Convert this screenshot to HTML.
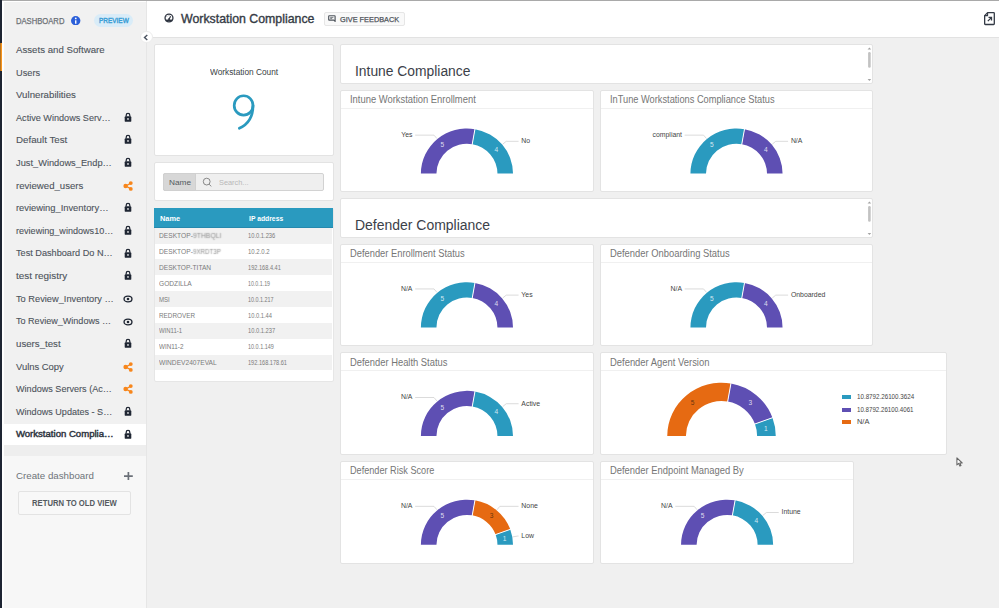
<!DOCTYPE html>
<html><head><meta charset="utf-8"><style>
*{margin:0;padding:0;box-sizing:border-box}
html,body{width:999px;height:608px;overflow:hidden;background:#f0f0f0;font-family:"Liberation Sans", sans-serif}
.t{position:absolute;white-space:nowrap;line-height:1}
.card{position:absolute;background:#fff;border:1px solid #e3e3e3;border-radius:2px}
.card .sep{position:absolute;left:0;right:0;top:17px;height:1px;background:#f0f0f0}
svg text{font-family:"Liberation Sans", sans-serif}
</style></head><body>
<div style="position:absolute;left:0;top:0;width:999px;height:1px;background:#a9a9a9"></div>
<div style="position:absolute;left:147px;top:1px;width:852px;height:37px;background:#fff;border-bottom:1px solid #e2e2e2"></div>
<div style="position:absolute;left:2px;top:1px;width:145px;height:607px;background:#fff"></div>
<div style="position:absolute;left:4px;top:2px;width:142px;height:443px;background:#f1f1f1"></div>
<div style="position:absolute;left:4px;top:445px;width:142px;height:11px;background:#eeeeee"></div>
<div style="position:absolute;left:4px;top:456px;width:142px;height:152px;background:#f7f7f7"></div>
<div style="position:absolute;left:146px;top:1px;width:1px;height:607px;background:#e6e6e6"></div>
<div style="position:absolute;left:0;top:0;width:2px;height:608px;background:#1e2533"></div>
<div style="position:absolute;left:0;top:43px;width:1px;height:28px;background:#b8741f"></div>
<div style="position:absolute;left:1px;top:43px;width:1px;height:28px;background:#f7941d"></div>
<div class="t" style="left:15.90px;top:17px;font-size:8.50px;color:#6c7075;transform:scaleX(0.8988);transform-origin:0 0;-webkit-text-stroke:0.25px #6c7075;">DASHBOARD</div>
<svg style="position:absolute;left:71.2px;top:15.5px" width="9.4" height="9.4" viewBox="0 0 10 10"><circle cx="5" cy="5" r="5" fill="#2b5fd9"/><rect x="4.3" y="4.4" width="1.5" height="3.8" rx="0.3" fill="#fff"/><circle cx="5.05" cy="2.55" r="0.95" fill="#fff"/></svg>
<div style="position:absolute;left:93.9px;top:13.9px;width:39.3px;height:12.9px;border-radius:6.5px;background:#d9ecf8"></div>
<div class="t" style="left:98.80px;top:18px;font-size:7.12px;color:#3a9ed6;transform:scaleX(0.9066);transform-origin:0 0;-webkit-text-stroke:0.4px #3a9ed6;">PREVIEW</div>
<div class="t" style="left:15.90px;top:46px;font-size:9.38px;color:#4d535b;transform:scaleX(1.0306);transform-origin:0 0;-webkit-text-stroke:0.1px #4d535b;">Assets and Software</div>
<div class="t" style="left:15.90px;top:69px;font-size:9.38px;color:#4d535b;transform:scaleX(0.9849);transform-origin:0 0;-webkit-text-stroke:0.1px #4d535b;">Users</div>
<div class="t" style="left:15.90px;top:91px;font-size:9.38px;color:#4d535b;transform:scaleX(1.0322);transform-origin:0 0;-webkit-text-stroke:0.1px #4d535b;">Vulnerabilities</div>
<div class="t" style="left:15.90px;top:114px;font-size:9.38px;color:#4d535b;transform:scaleX(0.9722);transform-origin:0 0;-webkit-text-stroke:0.1px #4d535b;">Active Windows Serv…</div>
<svg style="position:absolute;left:123.90px;top:111.86px" width="8" height="10" viewBox="0 0 8 10"><path d="M2.2,4.6V3.2a1.8,1.8 0 0 1 3.6,0V4.6" fill="none" stroke="#1f2633" stroke-width="1.25"/><rect x="0.7" y="4.3" width="6.6" height="5.5" rx="0.9" fill="#1f2633"/><circle cx="4" cy="6.9" r="0.85" fill="#f1f1f1"/></svg>
<div class="t" style="left:15.90px;top:136px;font-size:9.37px;color:#4d535b;transform:scaleX(1.0423);transform-origin:0 0;-webkit-text-stroke:0.1px #4d535b;">Default Test</div>
<svg style="position:absolute;left:123.90px;top:134.48px" width="8" height="10" viewBox="0 0 8 10"><path d="M2.2,4.6V3.2a1.8,1.8 0 0 1 3.6,0V4.6" fill="none" stroke="#1f2633" stroke-width="1.25"/><rect x="0.7" y="4.3" width="6.6" height="5.5" rx="0.9" fill="#1f2633"/><circle cx="4" cy="6.9" r="0.85" fill="#f1f1f1"/></svg>
<div class="t" style="left:15.90px;top:159px;font-size:9.37px;color:#4d535b;transform:scaleX(0.9903);transform-origin:0 0;-webkit-text-stroke:0.1px #4d535b;">Just_Windows_Endp…</div>
<svg style="position:absolute;left:123.90px;top:157.10px" width="8" height="10" viewBox="0 0 8 10"><path d="M2.2,4.6V3.2a1.8,1.8 0 0 1 3.6,0V4.6" fill="none" stroke="#1f2633" stroke-width="1.25"/><rect x="0.7" y="4.3" width="6.6" height="5.5" rx="0.9" fill="#1f2633"/><circle cx="4" cy="6.9" r="0.85" fill="#f1f1f1"/></svg>
<div class="t" style="left:15.90px;top:182px;font-size:9.37px;color:#4d535b;transform:scaleX(1.0278);transform-origin:0 0;-webkit-text-stroke:0.1px #4d535b;">reviewed_users</div>
<svg style="position:absolute;left:123.00px;top:180.72px" width="10" height="10" viewBox="0 0 10 10"><path d="M2.8,5 L7.9,2.1 M2.8,5 L7.9,7.9" stroke="#f7861c" stroke-width="1.3"/><circle cx="2.6" cy="5" r="2.25" fill="#f7861c"/><circle cx="7.8" cy="2.1" r="1.9" fill="#f7861c"/><circle cx="7.8" cy="7.9" r="1.9" fill="#f7861c"/></svg>
<div class="t" style="left:15.90px;top:204px;font-size:9.37px;color:#4d535b;-webkit-text-stroke:0.1px #4d535b;">reviewing_Inventory…</div>
<svg style="position:absolute;left:123.90px;top:202.34px" width="8" height="10" viewBox="0 0 8 10"><path d="M2.2,4.6V3.2a1.8,1.8 0 0 1 3.6,0V4.6" fill="none" stroke="#1f2633" stroke-width="1.25"/><rect x="0.7" y="4.3" width="6.6" height="5.5" rx="0.9" fill="#1f2633"/><circle cx="4" cy="6.9" r="0.85" fill="#f1f1f1"/></svg>
<div class="t" style="left:15.90px;top:227px;font-size:9.37px;color:#4d535b;transform:scaleX(0.9692);transform-origin:0 0;-webkit-text-stroke:0.1px #4d535b;">reviewing_windows10…</div>
<svg style="position:absolute;left:123.90px;top:224.96px" width="8" height="10" viewBox="0 0 8 10"><path d="M2.2,4.6V3.2a1.8,1.8 0 0 1 3.6,0V4.6" fill="none" stroke="#1f2633" stroke-width="1.25"/><rect x="0.7" y="4.3" width="6.6" height="5.5" rx="0.9" fill="#1f2633"/><circle cx="4" cy="6.9" r="0.85" fill="#f1f1f1"/></svg>
<div class="t" style="left:15.90px;top:249px;font-size:9.37px;color:#4d535b;transform:scaleX(0.9778);transform-origin:0 0;-webkit-text-stroke:0.1px #4d535b;">Test Dashboard Do N…</div>
<svg style="position:absolute;left:123.90px;top:247.58px" width="8" height="10" viewBox="0 0 8 10"><path d="M2.2,4.6V3.2a1.8,1.8 0 0 1 3.6,0V4.6" fill="none" stroke="#1f2633" stroke-width="1.25"/><rect x="0.7" y="4.3" width="6.6" height="5.5" rx="0.9" fill="#1f2633"/><circle cx="4" cy="6.9" r="0.85" fill="#f1f1f1"/></svg>
<div class="t" style="left:15.90px;top:272px;font-size:9.37px;color:#4d535b;transform:scaleX(1.0605);transform-origin:0 0;-webkit-text-stroke:0.1px #4d535b;">test registry</div>
<svg style="position:absolute;left:123.90px;top:270.20px" width="8" height="10" viewBox="0 0 8 10"><path d="M2.2,4.6V3.2a1.8,1.8 0 0 1 3.6,0V4.6" fill="none" stroke="#1f2633" stroke-width="1.25"/><rect x="0.7" y="4.3" width="6.6" height="5.5" rx="0.9" fill="#1f2633"/><circle cx="4" cy="6.9" r="0.85" fill="#f1f1f1"/></svg>
<div class="t" style="left:15.90px;top:295px;font-size:9.37px;color:#4d535b;transform:scaleX(0.9884);transform-origin:0 0;-webkit-text-stroke:0.1px #4d535b;">To Review_Inventory …</div>
<svg style="position:absolute;left:123.00px;top:295.12px" width="10" height="8" viewBox="0 0 10 8"><ellipse cx="5" cy="4" rx="3.95" ry="2.85" fill="none" stroke="#1f2633" stroke-width="1.35"/><circle cx="5" cy="4" r="1.3" fill="#1f2633"/></svg>
<div class="t" style="left:15.90px;top:317px;font-size:9.37px;color:#4d535b;transform:scaleX(0.9667);transform-origin:0 0;-webkit-text-stroke:0.1px #4d535b;">To Review_Windows …</div>
<svg style="position:absolute;left:123.00px;top:317.74px" width="10" height="8" viewBox="0 0 10 8"><ellipse cx="5" cy="4" rx="3.95" ry="2.85" fill="none" stroke="#1f2633" stroke-width="1.35"/><circle cx="5" cy="4" r="1.3" fill="#1f2633"/></svg>
<div class="t" style="left:15.90px;top:340px;font-size:9.37px;color:#4d535b;transform:scaleX(1.0332);transform-origin:0 0;-webkit-text-stroke:0.1px #4d535b;">users_test</div>
<svg style="position:absolute;left:123.90px;top:338.06px" width="8" height="10" viewBox="0 0 8 10"><path d="M2.2,4.6V3.2a1.8,1.8 0 0 1 3.6,0V4.6" fill="none" stroke="#1f2633" stroke-width="1.25"/><rect x="0.7" y="4.3" width="6.6" height="5.5" rx="0.9" fill="#1f2633"/><circle cx="4" cy="6.9" r="0.85" fill="#f1f1f1"/></svg>
<div class="t" style="left:15.90px;top:363px;font-size:9.37px;color:#4d535b;transform:scaleX(1.0057);transform-origin:0 0;-webkit-text-stroke:0.1px #4d535b;">Vulns Copy</div>
<svg style="position:absolute;left:123.00px;top:361.68px" width="10" height="10" viewBox="0 0 10 10"><path d="M2.8,5 L7.9,2.1 M2.8,5 L7.9,7.9" stroke="#f7861c" stroke-width="1.3"/><circle cx="2.6" cy="5" r="2.25" fill="#f7861c"/><circle cx="7.8" cy="2.1" r="1.9" fill="#f7861c"/><circle cx="7.8" cy="7.9" r="1.9" fill="#f7861c"/></svg>
<div class="t" style="left:15.90px;top:385px;font-size:9.37px;color:#4d535b;transform:scaleX(0.9697);transform-origin:0 0;-webkit-text-stroke:0.1px #4d535b;">Windows Servers (Ac…</div>
<svg style="position:absolute;left:123.00px;top:384.30px" width="10" height="10" viewBox="0 0 10 10"><path d="M2.8,5 L7.9,2.1 M2.8,5 L7.9,7.9" stroke="#f7861c" stroke-width="1.3"/><circle cx="2.6" cy="5" r="2.25" fill="#f7861c"/><circle cx="7.8" cy="2.1" r="1.9" fill="#f7861c"/><circle cx="7.8" cy="7.9" r="1.9" fill="#f7861c"/></svg>
<div class="t" style="left:15.90px;top:408px;font-size:9.37px;color:#4d535b;transform:scaleX(0.9687);transform-origin:0 0;-webkit-text-stroke:0.1px #4d535b;">Windows Updates - S…</div>
<svg style="position:absolute;left:123.90px;top:405.92px" width="8" height="10" viewBox="0 0 8 10"><path d="M2.2,4.6V3.2a1.8,1.8 0 0 1 3.6,0V4.6" fill="none" stroke="#1f2633" stroke-width="1.25"/><rect x="0.7" y="4.3" width="6.6" height="5.5" rx="0.9" fill="#1f2633"/><circle cx="4" cy="6.9" r="0.85" fill="#f1f1f1"/></svg>
<div style="position:absolute;left:4px;top:424px;width:142px;height:21px;background:#fff"></div>
<div class="t" style="left:15.90px;top:429px;font-size:9.59px;color:#2e3440;-webkit-text-stroke:0.45px #2e3440;">Workstation Complia…</div>
<svg style="position:absolute;left:123.90px;top:428.54px" width="8" height="10" viewBox="0 0 8 10"><path d="M2.2,4.6V3.2a1.8,1.8 0 0 1 3.6,0V4.6" fill="none" stroke="#1f2633" stroke-width="1.25"/><rect x="0.7" y="4.3" width="6.6" height="5.5" rx="0.9" fill="#1f2633"/><circle cx="4" cy="6.9" r="0.85" fill="#f1f1f1"/></svg>
<div class="t" style="left:15.90px;top:471px;font-size:9.45px;color:#6e7379;transform:scaleX(1.0314);transform-origin:0 0;">Create dashboard</div>
<svg style="position:absolute;left:124.2px;top:472.2px" width="8.8" height="8.2" viewBox="0 0 8.8 8.2"><path d="M4.4,0V8.2M0,4.1H8.8" stroke="#6b7078" stroke-width="1.7"/></svg>
<div style="position:absolute;left:18px;top:491px;width:113px;height:24px;border:1px solid #e3e3e3;border-radius:2px;background:#f8f8f8"></div>
<div class="t" style="left:32.10px;top:499px;font-size:8.72px;color:#555a60;font-weight:bold;transform:scaleX(0.8818);transform-origin:0 0;">RETURN TO OLD VIEW</div>
<div style="position:absolute;left:140.2px;top:30.5px;width:12.4px;height:12.4px;border-radius:50%;background:#fff;border:1px solid #ececec"></div>
<svg style="position:absolute;left:143.4px;top:33.6px" width="6" height="7" viewBox="0 0 6 7"><path d="M4.3,0.9 L1.5,3.45 L4.3,6" fill="none" stroke="#4a5260" stroke-width="1.4"/></svg>
<svg style="position:absolute;left:164.4px;top:13.4px" width="10" height="10" viewBox="0 0 10 10"><circle cx="5" cy="5" r="3.95" fill="none" stroke="#2e3440" stroke-width="1.3"/><path d="M1.7,7.4 H8.3" stroke="#2e3440" stroke-width="1.7"/><path d="M5,6.2 L6.6,3.2" stroke="#2e3440" stroke-width="1.2"/><circle cx="5" cy="6.2" r="0.9" fill="#2e3440"/><circle cx="2.9" cy="3.6" r="0.45" fill="#2e3440"/><circle cx="5" cy="2.6" r="0.45" fill="#2e3440"/></svg>
<div class="t" style="left:181.30px;top:14px;font-size:11.92px;color:#353b45;transform:scaleX(1.0360);transform-origin:0 0;-webkit-text-stroke:0.35px #353b45;">Workstation Compliance</div>
<div style="position:absolute;left:324px;top:12px;width:81px;height:14px;border:1px solid #e6e6e6;border-radius:2px;background:#f9f9f9"></div>
<svg style="position:absolute;left:328.4px;top:15.2px" width="7.8" height="7" viewBox="0 0 7.8 7"><path d="M1.2,0.7H6.6Q7.1,0.7 7.1,1.2V6.4L5.8,5.2H1.2Q0.7,5.2 0.7,4.7V1.2Q0.7,0.7 1.2,0.7Z" fill="none" stroke="#4e545c" stroke-width="1.15" stroke-linejoin="round"/><path d="M2.2,2.4H5.4M2.2,3.6H4.2" stroke="#4e545c" stroke-width="0.75"/></svg>
<div class="t" style="left:340.10px;top:16px;font-size:7.99px;color:#4e535a;transform:scaleX(0.9203);transform-origin:0 0;-webkit-text-stroke:0.25px #4e535a;">GIVE FEEDBACK</div>
<svg style="position:absolute;left:984.1px;top:12.1px" width="12" height="14" viewBox="0 0 12 14"><path d="M3.6,0.65H9.6Q10.3,0.65 10.3,1.35V11.8Q10.3,12.5 9.6,12.5H1.35Q0.65,12.5 0.65,11.8V3.6Z" fill="none" stroke="#333a45" stroke-width="1.3" stroke-linejoin="round"/><path d="M0.65,3.6H3.6V0.65" fill="none" stroke="#333a45" stroke-width="1.1" stroke-linejoin="round"/><path d="M3.8,9.1L7.3,5.6M4.5,5.4H7.5V8.4" fill="none" stroke="#333a45" stroke-width="1.3"/></svg>
<div class="card" style="left:154px;top:44px;width:180px;height:112px"></div>
<div class="t" style="left:209.50px;top:68px;font-size:8.58px;color:#3b3f45;transform:scaleX(0.9673);transform-origin:0 0;">Workstation Count</div>
<svg style="position:absolute;left:225px;top:88px" width="40" height="46" viewBox="225 88 40 46"><ellipse cx="243.6" cy="105.45" rx="9.4" ry="9.7" fill="none" stroke="#2a9abf" stroke-width="2.7"/><path d="M253,105.5 C253,117 248.5,124.2 239.3,128.3" fill="none" stroke="#2a9abf" stroke-width="2.7" stroke-linecap="round"/></svg>
<div class="card" style="left:154px;top:162px;width:180px;height:39px"></div>
<div style="position:absolute;left:163.4px;top:173.4px;width:160.3px;height:17.4px;border:1px solid #d2d2d2;border-radius:2px;background:#efefef"></div>
<div style="position:absolute;left:163.4px;top:173.4px;width:32.3px;height:17.4px;border:1px solid #d0d0d0;border-radius:2px 0 0 2px;background:#d7d7d7"></div>
<div class="t" style="left:168.50px;top:179px;font-size:7.85px;color:#555a60;transform:scaleX(1.0546);transform-origin:0 0;">Name</div>
<svg style="position:absolute;left:201.6px;top:177px" width="11" height="11" viewBox="0 0 11 11"><circle cx="4.7" cy="4.6" r="3.4" fill="none" stroke="#7a7a7a" stroke-width="0.9"/><path d="M7.2,7.2L9.2,9.4" stroke="#7a7a7a" stroke-width="0.9"/></svg>
<div class="t" style="left:218.70px;top:179px;font-size:7.85px;color:#b8b8b8;transform:scaleX(0.9396);transform-origin:0 0;">Search...</div>
<div class="card" style="left:154px;top:208px;width:180px;height:174px;border-color:#e6e6e6"></div>
<div style="position:absolute;left:154px;top:208px;width:179px;height:19.7px;background:#2a9abf;border-bottom:1.2px solid #2589ae"></div>
<div class="t" style="left:159.60px;top:215px;font-size:7.85px;color:#ffffff;font-weight:bold;transform:scaleX(0.9398);transform-origin:0 0;">Name</div>
<div class="t" style="left:248.50px;top:215px;font-size:7.85px;color:#ffffff;font-weight:bold;transform:scaleX(0.8646);transform-origin:0 0;">IP address</div>
<div style="position:absolute;left:155px;top:227.70px;width:177px;height:15.85px;background:#f1f1f1"></div>
<div class="t" style="left:158.90px;top:233px;font-size:6.83px;color:#7b7b7b;transform:scaleX(0.9740);transform-origin:0 0;">DESKTOP-</div>
<div class="t" style="left:193.20px;top:233px;font-size:7.12px;color:transparent;transform:scaleX(0.9563);transform-origin:0 0;text-shadow:0 0 1.2px #888;">9THBQLI</div>
<div class="t" style="left:248.20px;top:233px;font-size:6.83px;color:#7b7b7b;transform:scaleX(0.8458);transform-origin:0 0;">10.0.1.236</div>
<div style="position:absolute;left:155px;top:243.55px;width:177px;height:15.85px;background:#ffffff"></div>
<div class="t" style="left:158.90px;top:249px;font-size:6.83px;color:#7b7b7b;transform:scaleX(0.9740);transform-origin:0 0;">DESKTOP-</div>
<div class="t" style="left:193.20px;top:249px;font-size:7.12px;color:transparent;transform:scaleX(0.8674);transform-origin:0 0;text-shadow:0 0 1.2px #888;">9XRDT3P</div>
<div class="t" style="left:248.20px;top:249px;font-size:6.83px;color:#7b7b7b;transform:scaleX(0.8787);transform-origin:0 0;">10.2.0.2</div>
<div style="position:absolute;left:155px;top:259.40px;width:177px;height:15.85px;background:#f1f1f1"></div>
<div class="t" style="left:158.90px;top:265px;font-size:6.83px;color:#7b7b7b;transform:scaleX(0.9651);transform-origin:0 0;">DESKTOP-TITAN</div>
<div class="t" style="left:248.20px;top:265px;font-size:6.83px;color:#7b7b7b;transform:scaleX(0.8247);transform-origin:0 0;">192.168.4.41</div>
<div style="position:absolute;left:155px;top:275.25px;width:177px;height:15.85px;background:#ffffff"></div>
<div class="t" style="left:158.90px;top:281px;font-size:6.83px;color:#7b7b7b;transform:scaleX(0.9700);transform-origin:0 0;">GODZILLA</div>
<div class="t" style="left:248.20px;top:281px;font-size:6.83px;color:#7b7b7b;transform:scaleX(0.7723);transform-origin:0 0;">10.0.1.19</div>
<div style="position:absolute;left:155px;top:291.10px;width:177px;height:15.85px;background:#f1f1f1"></div>
<div class="t" style="left:158.90px;top:297px;font-size:6.83px;color:#7b7b7b;transform:scaleX(0.8882);transform-origin:0 0;">MSI</div>
<div class="t" style="left:248.20px;top:297px;font-size:6.83px;color:#7b7b7b;transform:scaleX(0.7931);transform-origin:0 0;">10.0.1.217</div>
<div style="position:absolute;left:155px;top:306.95px;width:177px;height:15.85px;background:#ffffff"></div>
<div class="t" style="left:158.90px;top:313px;font-size:6.83px;color:#7b7b7b;transform:scaleX(0.9320);transform-origin:0 0;">REDROVER</div>
<div class="t" style="left:248.20px;top:313px;font-size:6.83px;color:#7b7b7b;transform:scaleX(0.8425);transform-origin:0 0;">10.0.1.44</div>
<div style="position:absolute;left:155px;top:322.80px;width:177px;height:15.85px;background:#f1f1f1"></div>
<div class="t" style="left:158.90px;top:328px;font-size:6.83px;color:#7b7b7b;transform:scaleX(0.8700);transform-origin:0 0;">WIN11-1</div>
<div class="t" style="left:248.20px;top:328px;font-size:6.83px;color:#7b7b7b;transform:scaleX(0.8396);transform-origin:0 0;">10.0.1.237</div>
<div style="position:absolute;left:155px;top:338.65px;width:177px;height:15.85px;background:#ffffff"></div>
<div class="t" style="left:158.90px;top:344px;font-size:6.83px;color:#7b7b7b;transform:scaleX(0.9267);transform-origin:0 0;">WIN11-2</div>
<div class="t" style="left:248.20px;top:344px;font-size:6.83px;color:#7b7b7b;transform:scaleX(0.7993);transform-origin:0 0;">10.0.1.149</div>
<div style="position:absolute;left:155px;top:354.50px;width:177px;height:15.85px;background:#f1f1f1"></div>
<div class="t" style="left:158.90px;top:360px;font-size:6.83px;color:#7b7b7b;transform:scaleX(0.9697);transform-origin:0 0;">WINDEV2407EVAL</div>
<div class="t" style="left:248.20px;top:360px;font-size:6.83px;color:#7b7b7b;transform:scaleX(0.8214);transform-origin:0 0;">192.168.178.61</div>
<div class="card" style="left:340px;top:44px;width:533px;height:40px"></div>
<div class="t" style="left:354.90px;top:64px;font-size:14.68px;color:#3c4149;transform:scaleX(0.9434);transform-origin:0 0;">Intune Compliance</div>
<div class="card" style="left:340px;top:198px;width:533px;height:40px"></div>
<div class="t" style="left:354.90px;top:218px;font-size:14.68px;color:#3c4149;transform:scaleX(0.9517);transform-origin:0 0;">Defender Compliance</div>
<svg style="position:absolute;left:865px;top:44px" width="8" height="40" viewBox="0 0 8 40"><path d="M2.6,5.6L4.4,3.6L6.2,5.6Z" fill="#a3a3a3"/><rect x="3.1" y="8" width="2.6" height="15.7" rx="1.3" fill="#c2c2c2"/><path d="M2.6,35L4.4,37L6.2,35Z" fill="#a3a3a3"/></svg>
<svg style="position:absolute;left:865px;top:198px" width="8" height="40" viewBox="0 0 8 40"><path d="M2.6,5.6L4.4,3.6L6.2,5.6Z" fill="#a3a3a3"/><rect x="3.1" y="8" width="2.6" height="15.7" rx="1.3" fill="#c2c2c2"/><path d="M2.6,35L4.4,37L6.2,35Z" fill="#a3a3a3"/></svg>
<div class="card" style="left:340px;top:90px;width:254px;height:102px"><div class="sep"></div></div><div class="t" style="left:349.80px;top:95px;font-size:10.03px;color:#767676;transform:scaleX(0.9386);transform-origin:0 0;">Intune Workstation Enrollment</div><div class="card" style="left:600px;top:90px;width:273px;height:102px"><div class="sep"></div></div><div class="t" style="left:610.40px;top:95px;font-size:10.17px;color:#767676;transform:scaleX(0.9107);transform-origin:0 0;">InTune Workstations Compliance Status</div><div class="card" style="left:340px;top:244px;width:254px;height:102px"><div class="sep"></div></div><div class="t" style="left:349.80px;top:248px;font-size:11.05px;color:#767676;transform:scaleX(0.8452);transform-origin:0 0;">Defender Enrollment Status</div><div class="card" style="left:600px;top:244px;width:273px;height:102px"><div class="sep"></div></div><div class="t" style="left:610.40px;top:248px;font-size:10.76px;color:#767676;transform:scaleX(0.8742);transform-origin:0 0;">Defender Onboarding Status</div><div class="card" style="left:340px;top:352px;width:254px;height:103px"><div class="sep"></div></div><div class="t" style="left:349.80px;top:358px;font-size:10.47px;color:#767676;transform:scaleX(0.8953);transform-origin:0 0;">Defender Health Status</div><div class="card" style="left:600px;top:352px;width:347px;height:103px"><div class="sep"></div></div><div class="t" style="left:610.40px;top:358px;font-size:10.47px;color:#767676;transform:scaleX(0.8990);transform-origin:0 0;">Defender Agent Version</div><div class="card" style="left:340px;top:461px;width:254px;height:103px"><div class="sep"></div></div><div class="t" style="left:349.90px;top:466px;font-size:10.32px;color:#767676;transform:scaleX(0.8855);transform-origin:0 0;">Defender Risk Score</div><div class="card" style="left:600px;top:461px;width:254px;height:103px"><div class="sep"></div></div><div class="t" style="left:610.40px;top:466px;font-size:10.32px;color:#767676;transform:scaleX(0.9111);transform-origin:0 0;">Defender Endpoint Managed By</div>
<svg style="position:absolute;left:0;top:0" width="999" height="608" viewBox="0 0 999 608">
<g transform="translate(466.95,173.6) scale(1,0.98)">
<path d="M-46.05,-0.00A46.05,46.05 0 0 1 8.00,-45.35L5.30,-30.04A30.5,30.5 0 0 0 -30.50,-0.00Z" fill="#5e4fb3"/>
<path d="M8.00,-45.35A46.05,46.05 0 0 1 46.05,-0.00L30.50,-0.00A30.5,30.5 0 0 0 5.30,-30.04Z" fill="#2a9abf"/>
<line x1="5.12" y1="-29.05" x2="8.17" y2="-46.34" stroke="#fff" stroke-width="1"/>
</g>
<text x="442.35" y="147.27" font-size="6.6" fill="#fff" fill-opacity="0.8" text-anchor="middle">5</text>
<polyline points="436.96,138.58 434.01,135.13 415.15,135.13" fill="none" stroke="#cfcfcf" stroke-width="0.75"/>
<text x="412.45" y="137.03" font-size="6.9" fill="#444" text-anchor="end">Yes</text>
<text x="496.27" y="151.89" font-size="6.6" fill="#fff" fill-opacity="0.8" text-anchor="middle">4</text>
<polyline points="502.69,144.21 506.21,141.32 518.55,141.32" fill="none" stroke="#cfcfcf" stroke-width="0.75"/>
<text x="521.35" y="143.22" font-size="6.9" fill="#444" text-anchor="start">No</text>
<g transform="translate(736.5,173.6) scale(1,0.98)">
<path d="M-46.05,-0.00A46.05,46.05 0 0 1 8.00,-45.35L5.30,-30.04A30.5,30.5 0 0 0 -30.50,-0.00Z" fill="#2a9abf"/>
<path d="M8.00,-45.35A46.05,46.05 0 0 1 46.05,-0.00L30.50,-0.00A30.5,30.5 0 0 0 5.30,-30.04Z" fill="#5e4fb3"/>
<line x1="5.12" y1="-29.05" x2="8.17" y2="-46.34" stroke="#fff" stroke-width="1"/>
</g>
<text x="711.90" y="147.27" font-size="6.6" fill="#fff" fill-opacity="0.8" text-anchor="middle">5</text>
<polyline points="706.51,138.58 703.56,135.13 684.70,135.13" fill="none" stroke="#cfcfcf" stroke-width="0.75"/>
<text x="682.00" y="137.03" font-size="6.9" fill="#444" text-anchor="end">compliant</text>
<text x="765.82" y="151.89" font-size="6.6" fill="#fff" fill-opacity="0.8" text-anchor="middle">4</text>
<polyline points="772.24,144.21 775.76,141.32 788.10,141.32" fill="none" stroke="#cfcfcf" stroke-width="0.75"/>
<text x="790.90" y="143.22" font-size="6.9" fill="#444" text-anchor="start">N/A</text>
<g transform="translate(466.95,327.4) scale(1,0.98)">
<path d="M-46.05,-0.00A46.05,46.05 0 0 1 8.00,-45.35L5.30,-30.04A30.5,30.5 0 0 0 -30.50,-0.00Z" fill="#2a9abf"/>
<path d="M8.00,-45.35A46.05,46.05 0 0 1 46.05,-0.00L30.50,-0.00A30.5,30.5 0 0 0 5.30,-30.04Z" fill="#5e4fb3"/>
<line x1="5.12" y1="-29.05" x2="8.17" y2="-46.34" stroke="#fff" stroke-width="1"/>
</g>
<text x="442.35" y="301.07" font-size="6.6" fill="#fff" fill-opacity="0.8" text-anchor="middle">5</text>
<polyline points="436.96,292.38 434.01,288.93 415.15,288.93" fill="none" stroke="#cfcfcf" stroke-width="0.75"/>
<text x="412.45" y="290.83" font-size="6.9" fill="#444" text-anchor="end">N/A</text>
<text x="496.27" y="305.69" font-size="6.6" fill="#fff" fill-opacity="0.8" text-anchor="middle">4</text>
<polyline points="502.69,298.01 506.21,295.12 518.55,295.12" fill="none" stroke="#cfcfcf" stroke-width="0.75"/>
<text x="521.35" y="297.02" font-size="6.9" fill="#444" text-anchor="start">Yes</text>
<g transform="translate(736.5,327.4) scale(1,0.98)">
<path d="M-46.05,-0.00A46.05,46.05 0 0 1 8.00,-45.35L5.30,-30.04A30.5,30.5 0 0 0 -30.50,-0.00Z" fill="#2a9abf"/>
<path d="M8.00,-45.35A46.05,46.05 0 0 1 46.05,-0.00L30.50,-0.00A30.5,30.5 0 0 0 5.30,-30.04Z" fill="#5e4fb3"/>
<line x1="5.12" y1="-29.05" x2="8.17" y2="-46.34" stroke="#fff" stroke-width="1"/>
</g>
<text x="711.90" y="301.07" font-size="6.6" fill="#fff" fill-opacity="0.8" text-anchor="middle">5</text>
<polyline points="706.51,292.38 703.56,288.93 684.70,288.93" fill="none" stroke="#cfcfcf" stroke-width="0.75"/>
<text x="682.00" y="290.83" font-size="6.9" fill="#444" text-anchor="end">N/A</text>
<text x="765.82" y="305.69" font-size="6.6" fill="#fff" fill-opacity="0.8" text-anchor="middle">4</text>
<polyline points="772.24,298.01 775.76,295.12 788.10,295.12" fill="none" stroke="#cfcfcf" stroke-width="0.75"/>
<text x="790.90" y="297.02" font-size="6.9" fill="#444" text-anchor="start">Onboarded</text>
<g transform="translate(466.95,436.0) scale(1,0.98)">
<path d="M-46.05,-0.00A46.05,46.05 0 0 1 8.00,-45.35L5.30,-30.04A30.5,30.5 0 0 0 -30.50,-0.00Z" fill="#5e4fb3"/>
<path d="M8.00,-45.35A46.05,46.05 0 0 1 46.05,-0.00L30.50,-0.00A30.5,30.5 0 0 0 5.30,-30.04Z" fill="#2a9abf"/>
<line x1="5.12" y1="-29.05" x2="8.17" y2="-46.34" stroke="#fff" stroke-width="1"/>
</g>
<text x="442.35" y="409.67" font-size="6.6" fill="#fff" fill-opacity="0.8" text-anchor="middle">5</text>
<polyline points="436.96,400.98 434.01,397.53 415.15,397.53" fill="none" stroke="#cfcfcf" stroke-width="0.75"/>
<text x="412.45" y="399.43" font-size="6.9" fill="#444" text-anchor="end">N/A</text>
<text x="496.27" y="414.29" font-size="6.6" fill="#fff" fill-opacity="0.8" text-anchor="middle">4</text>
<polyline points="502.69,406.61 506.21,403.72 518.55,403.72" fill="none" stroke="#cfcfcf" stroke-width="0.75"/>
<text x="521.35" y="405.62" font-size="6.9" fill="#444" text-anchor="start">Active</text>
<g transform="translate(721.5,435.9) scale(1,0.98)">
<path d="M-54.25,-0.00A54.25,54.25 0 0 1 9.42,-53.43L6.18,-35.06A35.6,35.6 0 0 0 -35.60,-0.00Z" fill="#e66a12"/>
<path d="M9.42,-53.43A54.25,54.25 0 0 1 50.98,-18.55L33.45,-12.18A35.6,35.6 0 0 0 6.18,-35.06Z" fill="#5e4fb3"/>
<path d="M50.98,-18.55A54.25,54.25 0 0 1 54.25,-0.00L35.60,-0.00A35.6,35.6 0 0 0 33.45,-12.18Z" fill="#2a9abf"/>
<line x1="6.01" y1="-34.07" x2="9.59" y2="-54.41" stroke="#fff" stroke-width="1"/>
<line x1="32.51" y1="-11.83" x2="51.92" y2="-18.90" stroke="#fff" stroke-width="1"/>
</g>
<text x="692.62" y="404.57" font-size="6.6" fill="#2a1a0a" fill-opacity="0.7" text-anchor="middle">5</text>
<text x="750.38" y="404.57" font-size="6.6" fill="#fff" fill-opacity="0.8" text-anchor="middle">3</text>
<text x="765.74" y="430.65" font-size="6.6" fill="#fff" fill-opacity="0.8" text-anchor="middle">1</text>
<g transform="translate(466.95,544.8) scale(1,0.98)">
<path d="M-46.05,-0.00A46.05,46.05 0 0 1 8.00,-45.35L5.30,-30.04A30.5,30.5 0 0 0 -30.50,-0.00Z" fill="#5e4fb3"/>
<path d="M8.00,-45.35A46.05,46.05 0 0 1 43.27,-15.75L28.66,-10.43A30.5,30.5 0 0 0 5.30,-30.04Z" fill="#e66a12"/>
<path d="M43.27,-15.75A46.05,46.05 0 0 1 46.05,-0.00L30.50,-0.00A30.5,30.5 0 0 0 28.66,-10.43Z" fill="#2a9abf"/>
<line x1="5.12" y1="-29.05" x2="8.17" y2="-46.34" stroke="#fff" stroke-width="1"/>
<line x1="27.72" y1="-10.09" x2="44.21" y2="-16.09" stroke="#fff" stroke-width="1"/>
</g>
<text x="442.35" y="518.47" font-size="6.6" fill="#fff" fill-opacity="0.8" text-anchor="middle">5</text>
<polyline points="436.96,509.78 434.01,506.33 415.15,506.33" fill="none" stroke="#cfcfcf" stroke-width="0.75"/>
<text x="412.45" y="508.23" font-size="6.9" fill="#444" text-anchor="end">N/A</text>
<text x="491.55" y="518.47" font-size="6.6" fill="#2a1a0a" fill-opacity="0.7" text-anchor="middle">3</text>
<polyline points="496.94,509.78 499.89,506.33 518.55,506.33" fill="none" stroke="#cfcfcf" stroke-width="0.75"/>
<text x="521.35" y="508.23" font-size="6.9" fill="#444" text-anchor="start">None</text>
<text x="504.64" y="540.69" font-size="6.6" fill="#fff" fill-opacity="0.8" text-anchor="middle">1</text>
<polyline points="512.89,536.86 517.42,536.08 518.55,536.08" fill="none" stroke="#cfcfcf" stroke-width="0.75"/>
<text x="521.35" y="537.98" font-size="6.9" fill="#444" text-anchor="start">Low</text>
<g transform="translate(727.1,544.8) scale(1,0.98)">
<path d="M-46.05,-0.00A46.05,46.05 0 0 1 8.00,-45.35L5.30,-30.04A30.5,30.5 0 0 0 -30.50,-0.00Z" fill="#5e4fb3"/>
<path d="M8.00,-45.35A46.05,46.05 0 0 1 46.05,-0.00L30.50,-0.00A30.5,30.5 0 0 0 5.30,-30.04Z" fill="#2a9abf"/>
<line x1="5.12" y1="-29.05" x2="8.17" y2="-46.34" stroke="#fff" stroke-width="1"/>
</g>
<text x="702.50" y="518.47" font-size="6.6" fill="#fff" fill-opacity="0.8" text-anchor="middle">5</text>
<polyline points="697.11,509.78 694.16,506.33 675.30,506.33" fill="none" stroke="#cfcfcf" stroke-width="0.75"/>
<text x="672.60" y="508.23" font-size="6.9" fill="#444" text-anchor="end">N/A</text>
<text x="756.42" y="523.09" font-size="6.6" fill="#fff" fill-opacity="0.8" text-anchor="middle">4</text>
<polyline points="762.84,515.41 766.36,512.52 778.70,512.52" fill="none" stroke="#cfcfcf" stroke-width="0.75"/>
<text x="781.50" y="514.42" font-size="6.9" fill="#444" text-anchor="start">Intune</text>
</svg>
<div style="position:absolute;left:842.4px;top:395.00px;width:8.8px;height:4px;background:#2a9abf"></div><div class="t" style="left:856.80px;top:394px;font-size:6.69px;color:#454545;transform:scaleX(0.9308);transform-origin:0 0;">10.8792.26100.3624</div><div style="position:absolute;left:842.4px;top:407.50px;width:8.8px;height:4px;background:#5e4fb3"></div><div class="t" style="left:856.80px;top:407px;font-size:6.69px;color:#454545;transform:scaleX(0.9210);transform-origin:0 0;">10.8792.26100.4061</div><div style="position:absolute;left:842.4px;top:420.00px;width:8.8px;height:4px;background:#e66a12"></div><div class="t" style="left:856.80px;top:419px;font-size:6.69px;color:#454545;transform:scaleX(1.1105);transform-origin:0 0;">N/A</div>
<svg style="position:absolute;left:955.6px;top:457.4px" width="8" height="11" viewBox="0 0 8 11"><path d="M0.9,0.9V7.9L2.7,6.4L3.9,9.1L5,8.6L3.9,6H6.2Z" fill="#fff" stroke="#666" stroke-width="1.05" stroke-linejoin="round"/></svg>
</body></html>
